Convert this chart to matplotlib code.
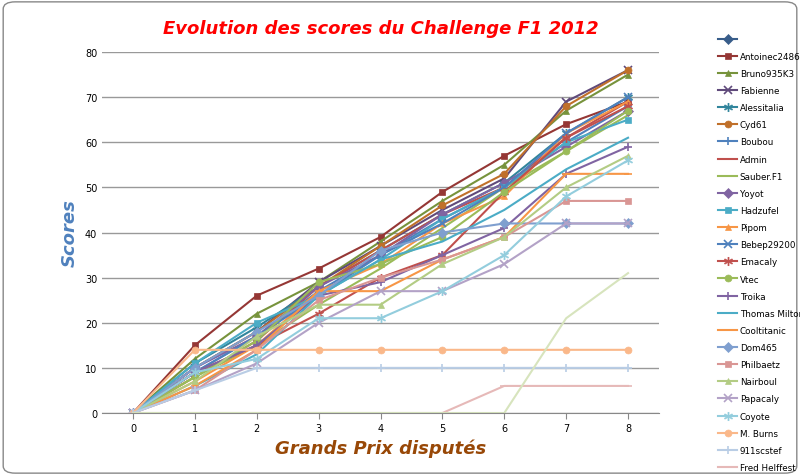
import matplotlib
matplotlib.use("Agg")
import matplotlib.pyplot as plt
from matplotlib.patches import FancyBboxPatch

gp = [0,1,2,3,4,5,6,7,8]
names = ["", "Antoinec2486","Bruno935K3","Fabienne","Alessitalia","Cyd61","Boubou","Admin",
         "Sauber.F1","Yoyot","Hadzufel","Pipom","Bebep29200","Emacaly","Vtec","Troika",
         "Thomas Milton","Cooltitanic","Dom465","Philbaetz","Nairboul","Papacaly","Coyote",
         "M. Burns","911scstef","Fred Helffest","Al-Enzo"]
scores = [
    [],
    [0,15,26,32,39,49,57,64,69],
    [0,12,22,29,38,47,55,67,75],
    [0,10,18,29,37,45,52,69,76],
    [0,11,19,28,36,44,51,62,70],
    [0,10,18,28,37,46,53,68,76],
    [0,9,17,27,35,43,50,60,68],
    [0,8,16,28,36,44,50,61,69],
    [0,8,15,24,32,41,50,58,66],
    [0,10,17,28,35,44,51,59,67],
    [0,11,20,26,34,43,50,60,65],
    [0,7,15,27,33,42,48,62,69],
    [0,9,17,26,35,42,50,62,70],
    [0,9,15,22,30,35,49,61,68],
    [0,8,16,29,33,39,49,58,67],
    [0,9,15,26,29,35,41,53,59],
    [0,6,13,26,34,38,45,54,61],
    [0,6,14,27,27,34,39,53,53],
    [0,10,18,26,36,40,42,42,42],
    [0,5,14,25,30,34,39,47,47],
    [0,7,17,24,24,33,39,50,57],
    [0,5,11,20,27,27,33,42,42],
    [0,9,12,21,21,27,35,48,56],
    [0,14,14,14,14,14,14,14,14],
    [0,5,10,10,10,10,10,10,10],
    [0,0,0,0,0,0,6,6,6],
    [0,0,0,0,0,0,0,21,31],
]
colors = ["#385D8A","#953735","#77933C","#604A7B","#31859C","#C0702A","#4F81BD","#C0504D",
          "#9BBB59","#8064A2","#4BACC6","#F79646","#4F81BD","#C0504D","#9BBB59","#8064A2",
          "#4BACC6","#F79646","#7F9FCF","#D99694","#B3CC84","#B3A2C7","#93CDDD","#FAB88A",
          "#B9CDE5","#E6B9B8","#D7E4BD"]
markers = ["D","s","^","x","$*$","o","+","_",None,"D","s","^","x","$*$","o","+",None,"_",
           "D","s","^","x","$*$","o","+","_",None]

fig = plt.figure(figsize=(8,4.77), dpi=100)
border = FancyBboxPatch((0.004,0.006),0.992,0.988,boxstyle="round,pad=0,rounding_size=0.015",
                        transform=fig.transFigure, fc="none", ec="#888888", lw=1, zorder=-10)
fig.patches.append(border)
ax = fig.add_axes([102/800, 1-414/477, 557/800, 361/477])
ax.patch.set_alpha(0)
for n, s, c, m in zip(names, scores, colors, markers):
    ms = 5 if m not in ("x","+","_","$*$") else 6
    ax.plot(gp[:len(s)], s, color=c, marker=m, markersize=ms, lw=1.5, label=n if n else " ",
            markeredgewidth=1.2 if m in ("x","+","_") else 0.5)
ax.set_xlim(-0.5,8.5)
ax.set_ylim(0,80)
ax.set_yticks(range(0,81,10))
ax.set_xticks(gp)
ax.grid(axis="y", color="#999999", lw=1)
ax.set_axisbelow(True)
for sp in ["top","right","left"]:
    ax.spines[sp].set_visible(False)
ax.spines["bottom"].set_color("#888888")
ax.tick_params(labelsize=7, length=0)
ax.tick_params(axis="x", length=4, color="#888888")
ax.set_title("Evolution des scores du Challenge F1 2012", color="#FF0000", fontsize=13,
             fontweight="bold", style="italic", pad=14)
ax.set_ylabel("Scores", color="#4F81BD", fontsize=13, fontweight="bold", style="italic")
ax.set_xlabel("Grands Prix disputés", color="#984807", fontsize=13, fontweight="bold", style="italic")
ax.legend(loc="upper left", bbox_to_anchor=(608/557, 1.07), frameon=False, fontsize=6.3,
          labelspacing=0.93, handlelength=2.2, handletextpad=0.3)
fig.savefig("out.png", dpi=100)
